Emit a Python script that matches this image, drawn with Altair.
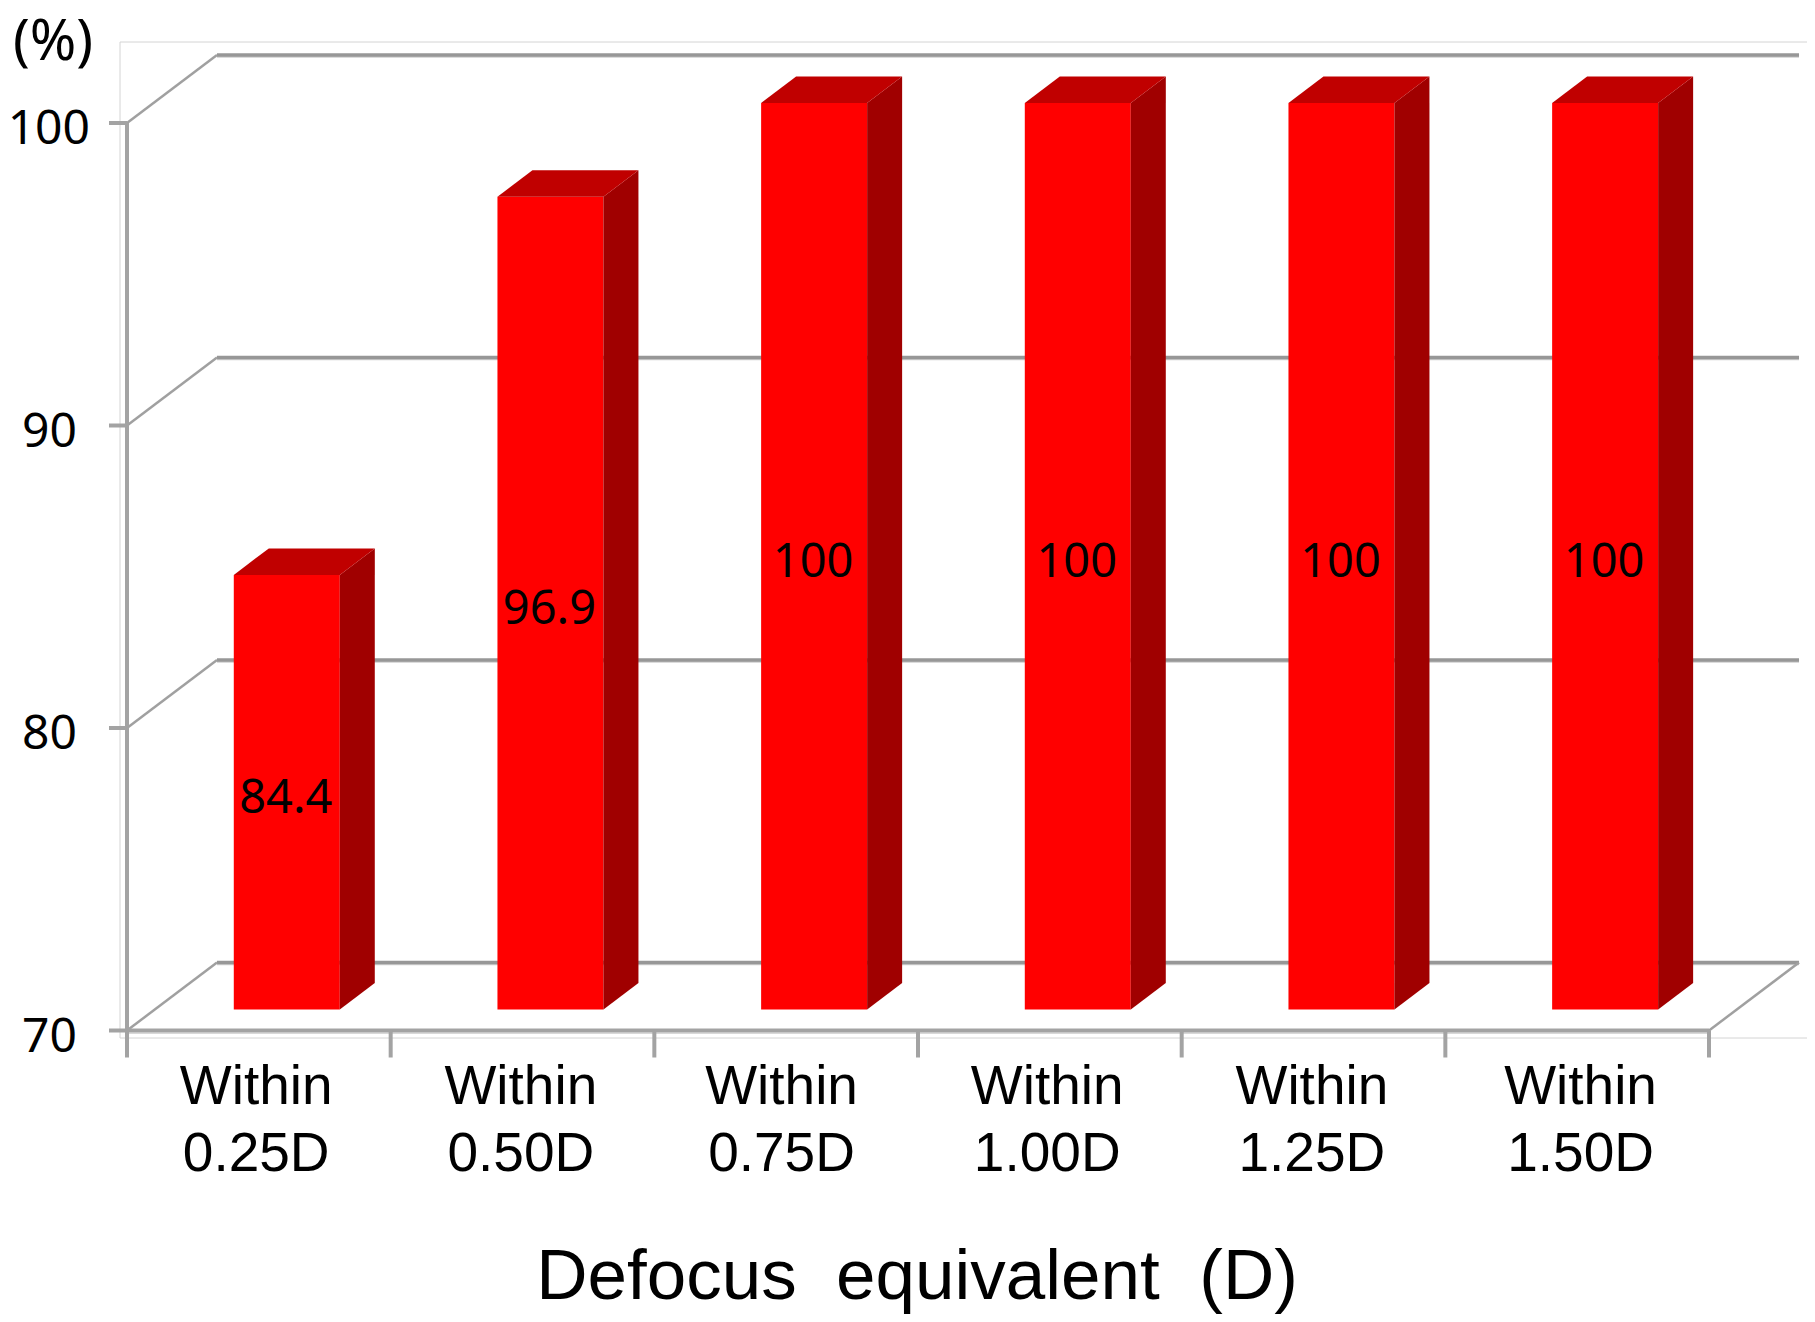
import altair as alt
import pandas as pd

# ---- values ----
categories = ["Within 0.25D", "Within 0.50D", "Within 0.75D", "Within 1.00D", "Within 1.25D", "Within 1.50D"]
values = [84.4, 96.9, 100, 100, 100, 100]
y_ticks = [70, 80, 90, 100]

# ---- layout of the pseudo-3D scene ----
W, H = 1799, 1306
SLOT = 263.67          # px per category slot
UNIT = 30.25           # px per percent
X0, Y0 = 119.0, 1022.5 # svg position of slot 0 / value 70
DEPTH_X, DEPTH_Y = 90 / SLOT, 68 / UNIT        # wall depth
BAR_DX, BAR_DY = 35 / SLOT, 26.5 / UNIT        # bar depth
BAR_L, BAR_W = 0.405, 0.402                    # bar position in a slot
BAR_LIFT = 21 / UNIT                           # bar base above the floor front edge
LABEL_NUDGE = [0, 1, -2, 0, 1, 6]              # px, category labels are not quite evenly spaced
N = len(categories)
BASE = y_ticks[0]
TOP = y_ticks[-1]

xs = alt.Scale(domain=[-X0 / SLOT, (W - X0) / SLOT], range=[0, W], nice=False, zero=False)
ys = alt.Scale(domain=[BASE - (H - Y0) / UNIT, BASE + Y0 / UNIT], range=[H, 0], nice=False, zero=False)
X = alt.X("x:Q", scale=xs, axis=None)
Y = alt.Y("y:Q", scale=ys, axis=None)


def rule(rows, color, width):
    df = pd.DataFrame(rows, columns=["x", "y", "x2", "y2"])
    return alt.Chart(df).mark_rule(color=color, strokeWidth=width).encode(
        x=X, y=Y, x2="x2:Q", y2="y2:Q")


# outer frame
fx0 = (120 - 8 - X0) / SLOT
fx1 = (W - X0) / SLOT
fy0 = BASE - (1038 - 1030.5) / UNIT
fy1 = BASE + (1030.5 - 42) / UNIT
frame = rule([[fx0, fy1, fx1, fy1], [fx0, fy0, fx1, fy0], [fx0, fy0, fx0, fy1]], "#d4d4d4", 1)

# back wall lines with soft shadow, side-wall diagonals, floor
shadow = rule([[DEPTH_X, v + DEPTH_Y - 1.8 / UNIT, N + DEPTH_X, v + DEPTH_Y - 1.8 / UNIT] for v in y_ticks], "#cfcfcf", 2)
grid = rule([[DEPTH_X, v + DEPTH_Y, N + DEPTH_X, v + DEPTH_Y] for v in y_ticks], "#979797", 3.5)
diag = rule([[0, v, DEPTH_X, v + DEPTH_Y] for v in y_ticks] + [[N, BASE, N + DEPTH_X, BASE + DEPTH_Y]], "#a0a0a0", 2.5)
floor = rule([[0, BASE, N, BASE], [0, BASE, 0, TOP]], "#a3a3a3", 4)
floor_shadow = rule([[0, BASE - 2.8 / UNIT, N, BASE - 2.8 / UNIT]], "#d8d8d8", 1.5)
x_ticks = rule([[i, BASE, i, BASE - 27 / UNIT] for i in range(N + 1)], "#a3a3a3", 4)
y_tick_marks = rule([[-18 / SLOT, v, 0, v] for v in y_ticks], "#a3a3a3", 4)

# bars
bars = pd.DataFrame({
    "i": range(N),
    "value": values,
    "x": [i + BAR_L for i in range(N)],
})
bars["x2"] = bars["x"] + BAR_W
bars["y"] = BASE + BAR_LIFT
bars["y2"] = bars["value"] + 20 / UNIT
front = alt.Chart(bars).mark_rect(color="#ff0000").encode(x=X, x2="x2:Q", y=Y, y2="y2:Q")

side_rows, top_rows = [], []
for r in bars.itertuples():
    side_rows += [
        {"b": r.i, "x": r.x2, "y": r.y, "y2": r.y2},
        {"b": r.i, "x": r.x2 + BAR_DX, "y": r.y + BAR_DY, "y2": r.y2 + BAR_DY},
    ]
    top_rows += [
        {"b": r.i, "y": r.y2, "x": r.x, "x2": r.x2},
        {"b": r.i, "y": r.y2 + BAR_DY, "x": r.x + BAR_DX, "x2": r.x2 + BAR_DX},
    ]
side = alt.Chart(pd.DataFrame(side_rows)).mark_area(color="#a00000", orient="vertical").encode(
    x=X, y=Y, y2="y2:Q", detail="b:N")
top = alt.Chart(pd.DataFrame(top_rows)).mark_area(color="#c00000", orient="horizontal").encode(
    y=Y, x=X, x2="x2:Q", detail="b:N")

# value labels
bars["tx"] = bars["x"] + BAR_W / 2 - 1 / SLOT
bars["ty"] = (bars["y"] + bars["y2"]) / 2
bars["label"] = [str(v) for v in values]
value_text = alt.Chart(bars).mark_text(
    font="Noto Sans", fontSize=47, color="#000000", baseline="middle", align="center", dy=7
).encode(x=alt.X("tx:Q", scale=xs, axis=None), y=alt.Y("ty:Q", scale=ys, axis=None), text="label:N")

# y tick labels: the three-digit label is moved in so that it stays whole at the page edge
ytxt = pd.DataFrame({
    "x": [(-50 if v < 100 else -37) / SLOT for v in y_ticks],
    "y": y_ticks,
    "t": [str(v) for v in y_ticks],
})
y_labels = alt.Chart(ytxt).mark_text(
    font="Noto Sans", fontSize=48, color="#000000", align="right", baseline="middle", dy=7
).encode(x=X, y=Y, text="t:N")

# category labels
cat = pd.DataFrame({
    "x": [i + 0.49 + LABEL_NUDGE[i] / SLOT for i in range(N)],
    "y": [BASE - 30.5 / UNIT] * N,
    "t": [c.split(" ") for c in categories],
})
cat_labels = alt.Chart(cat).mark_text(
    font="Liberation Sans", fontSize=55, color="#000000", align="center", baseline="top", lineHeight=66.7
).encode(x=X, y=Y, text="t")

# unit and axis title
unit = alt.Chart(pd.DataFrame({"x": [-74 / SLOT], "y": [TOP + 80 / UNIT], "t": ["(%)"]})).mark_text(
    font="Noto Sans", fontSize=56, color="#000000", align="center", baseline="middle"
).encode(x=X, y=Y, text="t:N")
title = alt.Chart(pd.DataFrame({"x": [(917 - 127) / SLOT], "y": [BASE - (1299 - 1030.5) / UNIT],
                                "t": ["Defocus\u00a0\u00a0equivalent\u00a0\u00a0(D)"]})).mark_text(
    font="Liberation Sans", fontSize=71, color="#000000", align="center", baseline="alphabetic"
).encode(x=X, y=Y, text=alt.Text("t:N"))

chart = alt.layer(
    frame, shadow, grid, diag, floor_shadow, floor, x_ticks, y_tick_marks,
    front, side, top, value_text, y_labels, cat_labels, unit, title
).properties(
    width=W, height=H, padding=0, autosize=alt.AutoSizeParams(type="none")
).configure_view(stroke=None)

chart.save("out.html", embed_options={"renderer": "svg", "actions": False})
